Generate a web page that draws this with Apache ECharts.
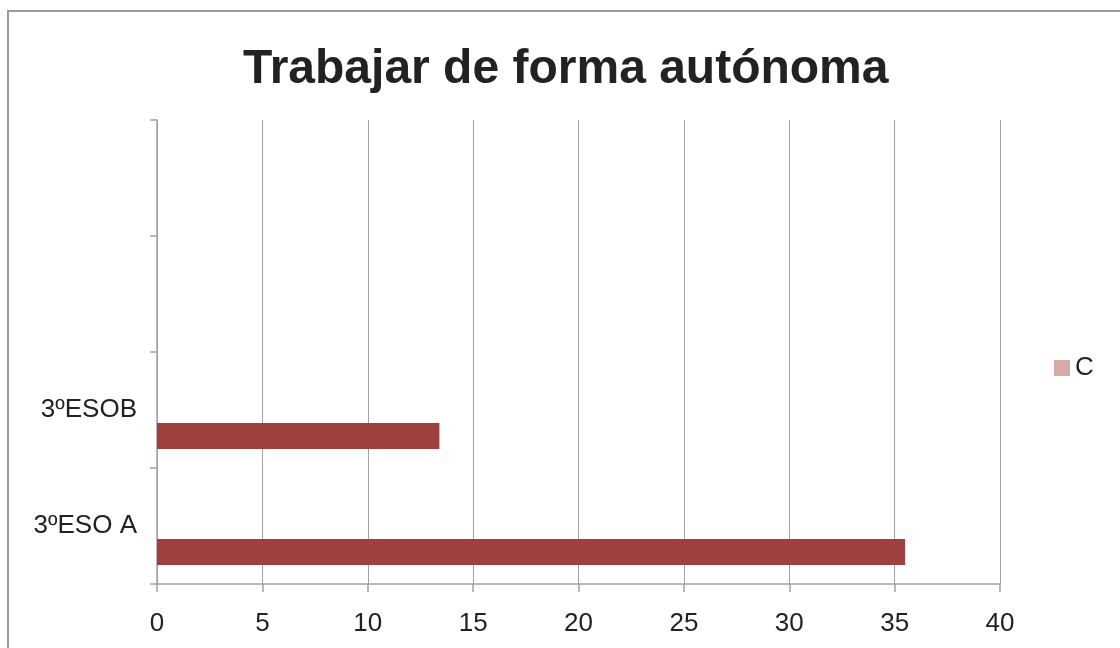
<!DOCTYPE html>
<html>
<head>
<meta charset="utf-8">
<script src="https://cdn.jsdelivr.net/npm/echarts@6/dist/echarts.min.js"></script>
<style>
  html, body { margin: 0; padding: 0; background: #fff; overflow: hidden; }
  #chart { width: 1120px; height: 648px; }
</style>
</head>
<body>
<div id="chart"></div>
<script>
// datos
const grupos = ['3ºESO A', '3ºESOB', '', ''];
const valores = [35.5, 13.4, null, null];
const ticksX = [0, 5, 10, 15, 20, 25, 30, 35, 40];

const colorBarra = '#9e403e';
const colorLeyenda = '#d9a9a7';
const gris = '#a3a3a3';
const texto = '#222222';

const chart = echarts.init(document.getElementById('chart'));

const option = {
    animation: false,
    title: {
        text: 'Trabajar de forma autónoma',
        left: 243,
        top: 46,
        padding: 0,
        textStyle: { fontFamily: 'Liberation Sans', fontSize: 48, fontWeight: 'bold', color: texto }
    },
    graphic: [{
        type: 'rect',
        shape: { x: 8, y: 11, width: 1200, height: 700 },
        style: { fill: 'none', stroke: '#9a9a9a', lineWidth: 2 },
        silent: true
    }],
    legend: {
        data: ['Columna1'],
        left: 1054,
        top: 355,
        padding: 0,
        itemWidth: 16,
        itemHeight: 16,
        itemGap: 4,
        icon: 'rect',
        formatter: () => 'C',
        textStyle: { fontFamily: 'Liberation Sans', fontSize: 26, color: texto, padding: [0, 0, 0, 0] }
    },
    grid: { left: 157, right: 120, top: 120, bottom: 64 },
    xAxis: {
        type: 'value',
        min: ticksX[0],
        max: ticksX[ticksX.length - 1],
        interval: 5,
        axisLine: { show: true, lineStyle: { color: gris, width: 1.5 } },
        axisTick: { show: true, length: 8, lineStyle: { color: gris, width: 1.5 } },
        splitLine: { show: true, lineStyle: { color: gris, width: 1 } },
        axisLabel: { fontFamily: 'Liberation Sans', fontSize: 26, color: texto, margin: 27 }
    },
    yAxis: {
        type: 'category',
        data: grupos,
        axisLine: { show: true, lineStyle: { color: gris, width: 1.5 } },
        axisTick: { show: true, length: 7, lineStyle: { color: gris, width: 1.5 } },
        axisLabel: { fontFamily: 'Liberation Sans', fontSize: 26, color: texto, margin: 20 }
    },
    // la serie con datos va al final para quedar abajo en cada grupo
    series: [
        {
            name: 'Columna2',
            type: 'bar',
            data: [null, null, null, null],
            barWidth: 26,
            barGap: '0%',
            itemStyle: { color: '#c0c0c0' }
        },
        {
            name: 'Columna1',
            type: 'bar',
            data: [null, null, null, null],
            barWidth: 26,
            barGap: '0%',
            itemStyle: { color: colorLeyenda }
        },
        {
            name: 'Serie1',
            type: 'bar',
            data: valores,
            barWidth: 26,
            barGap: '0%',
            itemStyle: { color: colorBarra }
        }
    ]
};

chart.setOption(option);
</script>
</body>
</html>
